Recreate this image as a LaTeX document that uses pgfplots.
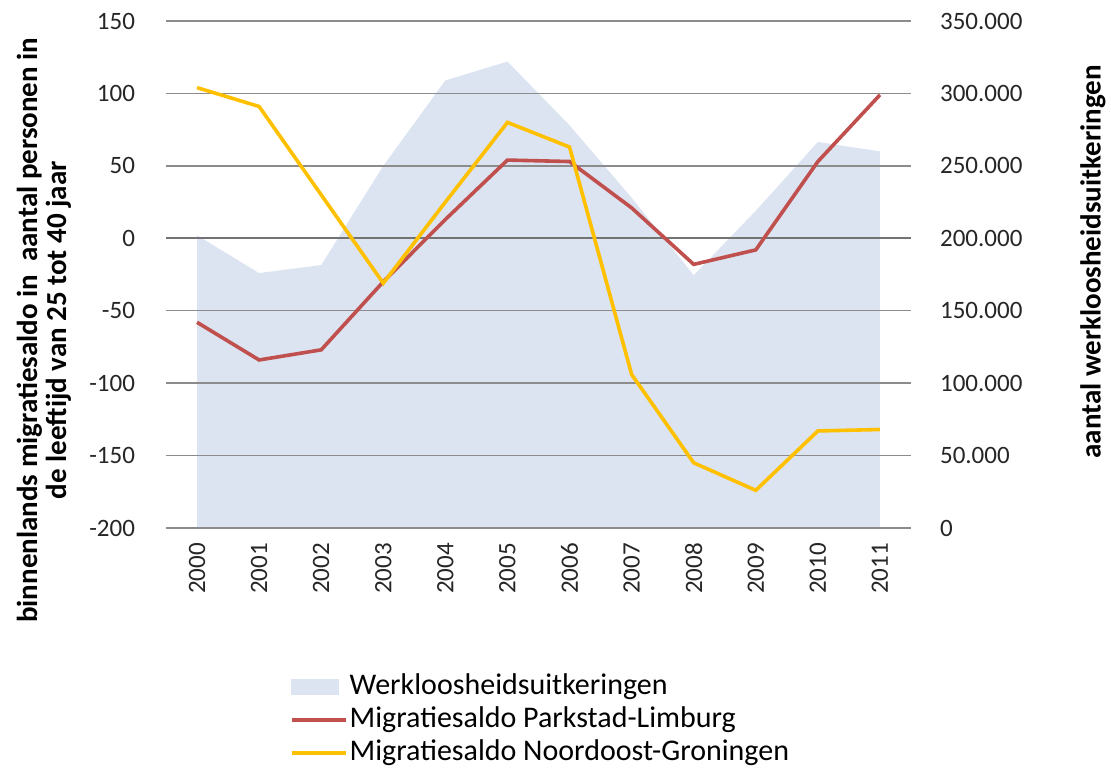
\documentclass[border=0pt]{standalone}
\usepackage{fontspec}
\setmainfont{Carlito}
\usepackage{pgfplots}
\usepackage{pgfplotstable}
\pgfplotsset{compat=1.18}
\definecolor{wwblue}{RGB}{220,227,241}
\definecolor{wwred}{RGB}{192,80,77}
\definecolor{wwyellow}{RGB}{255,192,0}
\definecolor{wwgrid}{RGB}{140,140,140}
\definecolor{wwzero}{RGB}{115,115,115}

% x: 0 = 2000 ... 11 = 2011
\pgfplotstableread{
x uitk park noord
0  202000 -58  104
1  176000 -84   91
2  181500 -77   30
3  250000 -30  -31
4  309000  13   25
5  322000  54   80
6  278000  53   63
7  228000  21  -94
8  174500 -18 -155
9  219000  -8 -174
10 266500  53 -133
11 260000  99 -132
}\data

\pgfplotsset{base/.style={
  width=372.5pt, height=253.5pt, scale only axis,
  xmin=-0.5, xmax=11.5,
  axis line style={draw=none}, major tick length=0pt,
  tick label style={font=\fontsize{12.5}{14}\selectfont, black!85},
  /pgf/number format/assume math mode=true,
}}

\begin{document}
\begin{tikzpicture}
% page = reference extent (plot area at 166..911 px, 21..528 px of 1111x773)
\useasboundingbox (-83pt,-122.5pt) rectangle (472.5pt,264pt);
\begin{axis}[base,
  axis y line*=right, axis x line=none,
  ymin=0, ymax=350000, ytick={0,50000,...,350000},
  scaled y ticks=false,
  yticklabel style={anchor=west, xshift=11pt, /pgf/number format/.cd, fixed, 1000 sep={.}},
  ylabel={\bfseries aantal werkloosheidsuitkeringen},
  every axis y label/.style={at={(axis description cs:1.244,0.525)}, rotate=90, anchor=center,
    font=\fontsize{14.5}{16}\selectfont},
]
\addplot[fill=wwblue, draw=none] table[x=x, y=uitk] {\data} \closedcycle;
\end{axis}

\begin{axis}[base,
  axis y line*=left,
  ymin=-200, ymax=150, ytick={-200,-150,...,150},
  yticklabel style={anchor=east, xshift=-12pt},
  xtick={0,...,11},
  xticklabels={2000,2001,2002,2003,2004,2005,2006,2007,2008,2009,2010,2011},
  xticklabel style={rotate=90, anchor=east, xshift=-4pt},
  ymajorgrids, grid style={wwgrid, line width=0.7pt},
  extra y ticks={0}, extra y tick labels={},
  extra y tick style={grid style={wwzero, line width=1.2pt}},
  ylabel={\bfseries binnenlands migratiesaldo in\ \ aantal personen in\\\bfseries de leeftijd van 25 tot 40 jaar},
  every axis y label/.style={at={(axis description cs:-0.164,0.39)}, rotate=90, anchor=center,
    align=center, font=\fontsize{14.5}{14.5}\selectfont},
  legend style={at={(axis description cs:0.166,-0.28)}, anchor=north west, draw=none, fill=none,
    inner sep=0pt, font=\fontsize{15}{15}\selectfont, row sep=0pt,
    nodes={inner xsep=1pt, inner ysep=1pt, text height=11pt, text depth=3.5pt}},
  legend cell align=left,
]
\addlegendimage{legend image code/.code={\fill[wwblue] (0pt,-3.8pt) rectangle (23.5pt,3.8pt);}}
\addlegendentry{Werkloosheidsuitkeringen}
\addplot[wwred, line width=1.8pt,
  legend image code/.code={\draw[wwred, line width=1.8pt] (0pt,0pt) -- (27pt,0pt);}]
  table[x=x, y=park] {\data};
\addlegendentry{Migratiesaldo Parkstad-Limburg}
\addplot[wwyellow, line width=1.8pt,
  legend image code/.code={\draw[wwyellow, line width=1.8pt] (0pt,0pt) -- (27pt,0pt);}]
  table[x=x, y=noord] {\data};
\addlegendentry{Migratiesaldo Noordoost-Groningen}
\end{axis}
\end{tikzpicture}
\end{document}
